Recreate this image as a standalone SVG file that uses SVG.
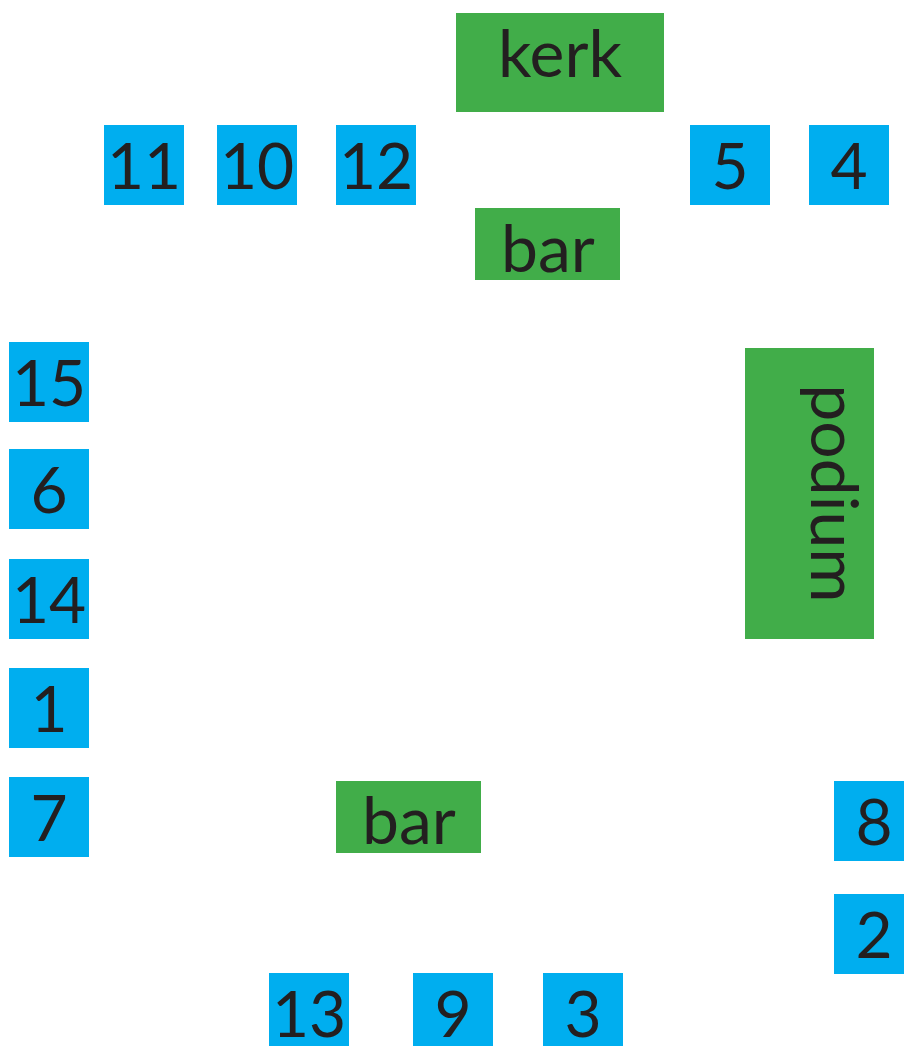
<svg xmlns="http://www.w3.org/2000/svg" width="904" height="1046" viewBox="0 0 904 1046">
<style>
.g{fill:#41AD49}
.b{fill:#00AEEF}
.t{font-family:Lato,"Open Sans","Liberation Sans",sans-serif;fill:#231F20;text-anchor:middle}
.n{font-size:64px}
.w{font-size:66px}
</style>
<rect width="904" height="1046" fill="#ffffff"/>
<g id="kerk"><rect class="g" x="456" y="13" width="208" height="99"/><text class="t w" x="560" y="77">kerk</text></g>
<g id="bar-top"><rect class="g" x="475" y="208" width="145" height="72"/><text class="t w" x="548" y="272">bar</text></g>
<g id="podium"><rect class="g" x="745" y="348" width="129" height="291"/><text class="t w" transform="translate(811,493.5) rotate(90)">podium</text></g>
<g id="bar-bottom"><rect class="g" x="336" y="781" width="145" height="72"/><text class="t w" x="409" y="844">bar</text></g>
<g id="t11"><rect class="b" x="104" y="125" width="80" height="80"/><text class="t n" x="144" y="189">11</text></g>
<g id="t10"><rect class="b" x="217" y="125" width="80" height="80"/><text class="t n" x="257" y="189">10</text></g>
<g id="t12"><rect class="b" x="336" y="125" width="80" height="80"/><text class="t n" x="376" y="189">12</text></g>
<g id="t5"><rect class="b" x="690" y="125" width="80" height="80"/><text class="t n" x="730" y="189">5</text></g>
<g id="t4"><rect class="b" x="809" y="125" width="80" height="80"/><text class="t n" x="849" y="189">4</text></g>
<g id="t15"><rect class="b" x="9" y="342" width="80" height="80"/><text class="t n" x="49" y="406">15</text></g>
<g id="t6"><rect class="b" x="9" y="449" width="80" height="80"/><text class="t n" x="49" y="513">6</text></g>
<g id="t14"><rect class="b" x="9" y="559" width="80" height="80"/><text class="t n" x="49" y="623">14</text></g>
<g id="t1"><rect class="b" x="9" y="668" width="80" height="80"/><text class="t n" x="49" y="732">1</text></g>
<g id="t7"><rect class="b" x="9" y="777" width="80" height="80"/><text class="t n" x="49" y="841">7</text></g>
<g id="t8"><rect class="b" x="834" y="781" width="80" height="80"/><text class="t n" x="874" y="845">8</text></g>
<g id="t2"><rect class="b" x="834" y="894" width="80" height="80"/><text class="t n" x="874" y="958">2</text></g>
<g id="t13"><rect class="b" x="269" y="973" width="80" height="80"/><text class="t n" x="309" y="1037">13</text></g>
<g id="t9"><rect class="b" x="413" y="973" width="80" height="80"/><text class="t n" x="453" y="1037">9</text></g>
<g id="t3"><rect class="b" x="543" y="973" width="80" height="80"/><text class="t n" x="583" y="1037">3</text></g>
<g id="connectors"/>
</svg>
